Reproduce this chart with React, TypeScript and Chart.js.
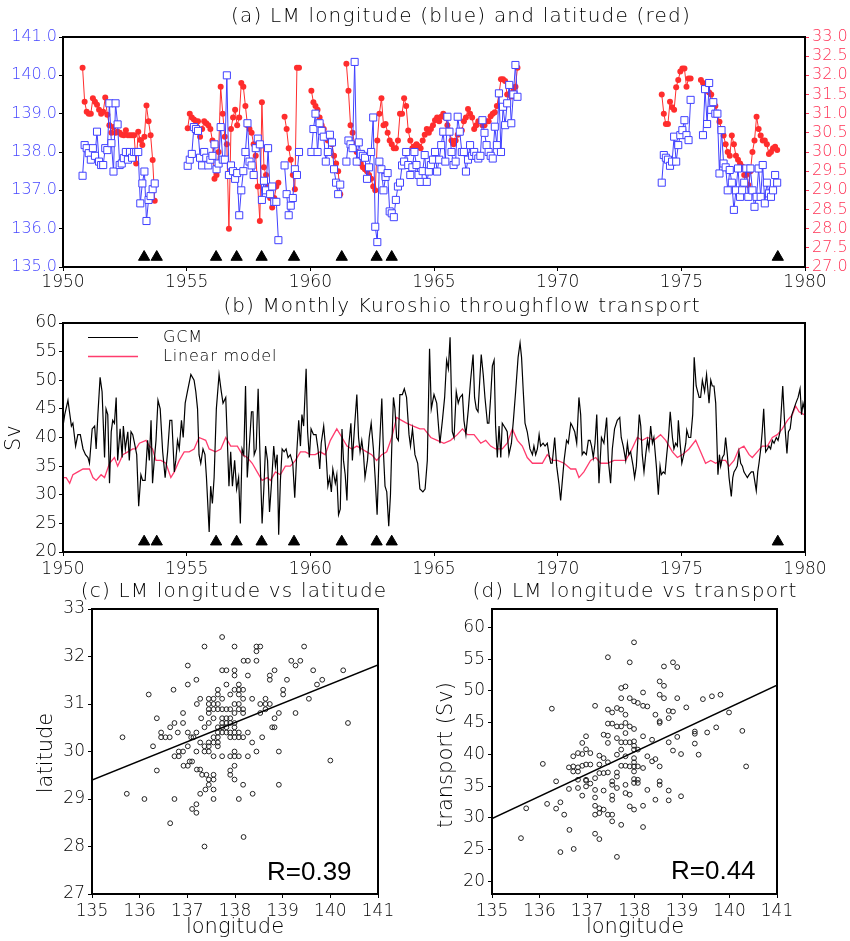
import React, { useEffect, useRef } from "react";
import { Chart, registerables } from "chart.js";
Chart.register(...registerables);

// ---------------- DATA ----------------
const yearTicks = [1950, 1955, 1960, 1965, 1970, 1975, 1980];
const lonTicks = [135, 136, 137, 138, 139, 140, 141];
const latTicksRight = [27, 27.5, 28, 28.5, 29, 29.5, 30, 30.5, 31, 31.5, 32, 32.5, 33];
const svTicks = [20, 25, 30, 35, 40, 45, 50, 55, 60];
const latTicks = [27, 28, 29, 30, 31, 32, 33];

// start [year, month] of each monthly segment in panel (a)
const segmentStarts: [number, number][] = [[1950, 10], [1955, 1], [1960, 1], [1974, 3]];

const lonSeg1 = [
  137.38, 138.18, 138.1,
  137.97, 137.8, 138.1, 137.9, 138.53, 137.75, 137.66, 137.66, 138.1, 138.05, 139.27, 138.23,
  137.49, 139.27, 138.72, 137.66, 137.7, 137.84, 138.0, 137.8, 138.0, 137.85, 138.0, 138.0,
  138.0, 136.66, 137.18, 137.49, 136.2, 136.75, 136.85, 137.03, 137.18,
];
const latSeg1 = [
  32.2, 31.31, 31.05,
  31.0, 31.0, 31.4, 31.31, 31.23, 31.1, 31.0, 31.05, 31.42, 30.97, 30.7, 30.5,
  30.65, 30.5, 30.53, 30.5, 30.45, 30.44, 30.57, 30.44, 30.44, 30.44, 30.44, 29.7,
  30.53, 30.31, 30.18, 30.4, 31.21, 30.8, 30.44, 29.79, 28.73,
];
const lonSeg2 = [
  137.64, 137.8, 137.95, 138.65, 138.6, 138.55, 137.85, 137.65, 138.0, 137.85, 137.65, 137.8,
  137.9, 138.2, 137.55, 137.7, 138.65, 137.8, 137.8, 140.0, 137.4, 137.65, 137.5, 137.3,
  137.45, 136.35, 137.0, 137.5, 138.0, 138.75, 137.75, 137.65, 137.4, 138.1, 138.35, 138.2,
  136.75, 137.25, 137.0, 138.1, 136.9, 137.1, 136.7, 136.7, 135.7, null, null, 137.65,
  136.9, 136.35, 136.6, 136.8, 137.55, 137.4, 138.0,
];
const latSeg2 = [
  30.62, 31.0, 30.9, 30.85, 30.8, 30.8, 30.4, 30.6, 30.8, 30.75, 30.7, 30.6,
  30.3, 29.3, 29.4, 30.0, 31.7, 31.0, 30.4, 30.2, 28.0, 30.6, 30.9, 31.1,
  30.7, 30.9, 31.8, 31.7, 31.2, 30.7, 30.6, 30.5, 30.2, 29.9, 29.1, 28.2,
  31.3, 29.6, 29.4, 29.1, 28.8, 28.55, 28.8, 29.1, 29.2, null, null, 30.92,
  30.6, 30.1, 29.8, 29.4, 29.03, 32.2, 32.2,
];
const lonSeg3 = [
  138.0, 138.6, 139.0, 138.0, 138.75, 138.55, 138.4, 137.75, 138.0, 138.45, 138.25, 137.55,
  137.2, 136.9, 137.15, null, null, 137.75, 138.3, 138.2, 138.1, 140.35, 137.75, 138.25,
  137.95, 137.9, 137.85, 137.3, 137.6, 138.0, 138.9, 136.05, 135.65, 137.75, 137.55, 137.0,
  137.35, 137.45, 136.45, 136.4, 136.3, 136.75, 137.1, 137.2, 137.65, 137.75, 138.0, 137.66,
  137.4, 137.6, 138.0, 137.66, 137.4, 137.22, 137.5, 137.92, 137.22, 137.49, 137.66, 137.8,
  138.0, 137.49, 137.8, 138.18, 138.53, 137.75, 138.92, 138.53, 138.0, 137.66, 137.75, 138.92,
  138.53, 138.0, 138.0, 137.49, 137.8, 138.18, 137.9, 138.0, 137.9, 137.83, 137.9, 138.83,
  138.5, 138.18, 138.0, 137.9, 137.83, 138.66, 138.18, 139.53, 138.0, 139.18, 138.7, 139.27,
  139.75, 138.75, 139.5, 140.27, 139.44,
];
const latSeg3 = [
  31.6, 31.3, 31.2, 31.1, 30.9, 30.7, 30.6, 30.4, 30.3, 30.4, 30.2, 29.9,
  29.7, 29.5, 28.9, null, null, 32.3, 31.6, 30.7, 30.5, 30.2, 30.0, 29.85,
  29.7, 29.6, 29.55, 29.5, 29.4, 29.3, 29.1, 29.0, 30.3, 31.0, 31.4, 30.7,
  30.73, 30.5, 30.3, 30.2, 30.1, 30.1, 30.3, 31.0, 31.0, 31.4, 31.2, 30.56,
  30.3, 30.1, 30.15, 30.2, 30.15, 30.1, 30.3, 30.45, 30.6, 30.5, 30.6, 30.7,
  30.83, 30.9, 30.8, 30.92, 31.0, 30.9, 30.7, 30.56, 30.3, 30.2, 30.3, 30.45,
  30.5, 30.56, 30.8, 30.9, 31.12, 31.0, 30.9, 30.6, 30.7, 30.8, 30.8, 30.7,
  30.7, 30.8, 30.8, 30.93, 31.0, 31.04, 31.2, 31.5, 31.9, 31.9, 31.85, 31.5,
  31.5, 31.45, 31.6, 31.7, 32.2,
];
const lonSeg4 = [
  137.2, 137.92, 137.85, 137.8, 137.64, 137.75, 138.4, 137.75, 138.18, 138.44,
  138.57, 138.83, 138.44, 138.31, 139.36, null, null, null, null, null, 138.44, 139.64,
  138.73, 139.8, 139.1, 139.3, 139.0, 139.0, 137.44, 138.57, 137.7, 137.6, 137.0, 137.53,
  137.2, 136.49, 137.0, 137.57, 136.83, 137.0, 137.2, 137.57, 136.83, 137.57, 137.0, 136.57,
  136.83, 137.57, 136.83, 137.66, 136.66, 137.2, 136.92, 136.83, 137.0, 137.4, 137.2,
];
const latSeg4 = [
  31.5, 31.0, 30.73, 30.73, 31.31, 31.17, 31.1, 31.69, 31.88, 32.1,
  32.18, 32.18, 31.7, 31.92, 31.92, null, null, null, null, 31.88, 31.8, 31.66,
  31.6, 31.55, 31.5, 31.3, 31.2, 31.0, 30.79, 30.6, 30.43, 30.2, 30.0, 29.9,
  30.43, 30.2, 29.9, 29.8, 29.7, 29.62, 29.4, 29.4, 29.14, 29.5, 30.0, 30.3,
  30.92, 30.6, 30.43, 30.3, 30.3, 30.2, 29.95, 30.0, 30.1, 30.14, 30.05,
];

// event marks (triangles)
const eventYears = [1953.28, 1953.79, 1956.19, 1957.02, 1958.03, 1959.34, 1961.27, 1962.68, 1963.29, 1978.9];

// panel (b): [year, Sv]
const gcmSeries: [number, number][] = [
  [1950.0, 42], [1950.07, 44], [1950.2, 46.5], [1950.34, 42], [1950.4, 42.5], [1950.51, 38.5], [1950.6, 40.5], [1950.7, 40.5],
  [1950.81, 38], [1950.91, 37], [1951.01, 36.5], [1951.07, 35.5], [1951.18, 41.5], [1951.28, 42], [1951.34, 38], [1951.41, 44],
  [1951.5, 50.5], [1951.58, 48], [1951.68, 36.5], [1951.74, 45], [1951.81, 44], [1951.88, 32], [1951.95, 41], [1952.01, 43],
  [1952.08, 42.5], [1952.15, 47], [1952.21, 36], [1952.31, 41.5], [1952.39, 36.5], [1952.44, 42], [1952.52, 38], [1952.62, 41],
  [1952.68, 36], [1952.75, 41], [1952.82, 40.5], [1952.89, 39], [1952.98, 37], [1953.06, 28], [1953.15, 33.5], [1953.22, 32.5],
  [1953.32, 32.5], [1953.42, 39.5], [1953.49, 36], [1953.56, 43], [1953.62, 32], [1953.69, 36], [1953.76, 39.5], [1953.84, 46.5],
  [1953.93, 45], [1954.03, 37.5], [1954.13, 33], [1954.23, 37.5], [1954.32, 43], [1954.4, 43], [1954.5, 34], [1954.56, 36],
  [1954.63, 39.5], [1954.7, 38], [1954.79, 43], [1954.86, 40], [1954.94, 46], [1955.03, 48], [1955.17, 51], [1955.3, 50],
  [1955.37, 48], [1955.44, 45], [1955.5, 37], [1955.57, 35.5], [1955.66, 38], [1955.74, 37], [1955.8, 33], [1955.91, 23.5],
  [1955.97, 31.5], [1956.04, 28.5], [1956.11, 33], [1956.2, 45], [1956.31, 51], [1956.4, 48], [1956.47, 46], [1956.58, 47],
  [1956.64, 40], [1956.71, 31.5], [1956.78, 37.5], [1956.85, 31.5], [1956.94, 36], [1957.02, 31], [1957.1, 33], [1957.17, 25],
  [1957.24, 38], [1957.31, 37], [1957.38, 49], [1957.45, 33], [1957.54, 39], [1957.62, 44.5], [1957.68, 44.5], [1957.73, 37],
  [1957.81, 38], [1957.89, 48.5], [1957.96, 37.5], [1958.05, 25], [1958.12, 31], [1958.19, 38.5], [1958.27, 36], [1958.35, 27],
  [1958.43, 32], [1958.52, 38.5], [1958.59, 35], [1958.66, 37], [1958.72, 23], [1958.79, 32.5], [1958.86, 38], [1958.94, 37.5],
  [1959.02, 38], [1959.1, 36.5], [1959.19, 37], [1959.29, 35.5], [1959.37, 29.5], [1959.46, 38], [1959.53, 43], [1959.6, 38.5],
  [1959.66, 44], [1959.73, 42], [1959.83, 52], [1959.89, 41], [1959.96, 36.5], [1960.03, 41.5], [1960.13, 40.5], [1960.23, 40.5],
  [1960.31, 38], [1960.38, 34.5], [1960.44, 39], [1960.54, 42], [1960.63, 37.5], [1960.71, 31.5], [1960.78, 33], [1960.85, 30.5],
  [1960.91, 34.5], [1961.01, 32], [1961.07, 33.5], [1961.14, 26.5], [1961.21, 27.5], [1961.28, 41.5], [1961.34, 36], [1961.41, 33.5],
  [1961.48, 29], [1961.54, 38], [1961.64, 42.5], [1961.7, 36], [1961.79, 42], [1961.88, 47.5], [1961.95, 40], [1962.01, 37.5],
  [1962.08, 39.5], [1962.15, 37], [1962.21, 33], [1962.31, 36], [1962.38, 40], [1962.46, 42.5], [1962.55, 38], [1962.62, 33],
  [1962.7, 26.5], [1962.78, 37], [1962.89, 46.8], [1962.96, 37], [1963.02, 31.5], [1963.09, 30.5], [1963.17, 24.5], [1963.24, 30],
  [1963.29, 38], [1963.36, 47], [1963.42, 45], [1963.49, 40], [1963.56, 39.5], [1963.62, 47.5], [1963.72, 47.5], [1963.8, 48.5],
  [1963.89, 47], [1963.99, 40.5], [1964.05, 38.5], [1964.13, 41.5], [1964.23, 37], [1964.34, 35.5], [1964.43, 31], [1964.55, 30.5],
  [1964.64, 31], [1964.73, 36], [1964.82, 55.5], [1964.89, 45], [1965.0, 47.5], [1965.11, 46], [1965.2, 41], [1965.24, 39],
  [1965.34, 43], [1965.43, 47], [1965.51, 53.5], [1965.58, 52], [1965.65, 57.5], [1965.74, 41], [1965.81, 40], [1965.9, 48],
  [1965.98, 46], [1966.05, 47], [1966.15, 47.5], [1966.21, 43], [1966.29, 40.5], [1966.39, 45], [1966.48, 50], [1966.58, 54.5],
  [1966.64, 47], [1966.71, 45], [1966.78, 44.5], [1966.85, 50], [1966.91, 54.5], [1966.99, 51], [1967.06, 47], [1967.16, 42.5],
  [1967.22, 42.5], [1967.29, 47], [1967.36, 52.5], [1967.43, 53.5], [1967.49, 42], [1967.56, 36.5], [1967.63, 42], [1967.7, 36.5],
  [1967.76, 42.5], [1967.83, 42], [1967.9, 41.5], [1967.96, 41], [1968.03, 37], [1968.13, 39], [1968.21, 43], [1968.3, 48],
  [1968.4, 54], [1968.48, 56.5], [1968.54, 54], [1968.61, 48], [1968.68, 42.5], [1968.77, 41], [1968.88, 38], [1968.98, 37],
  [1969.04, 38.5], [1969.11, 37], [1969.18, 38], [1969.25, 40.5], [1969.31, 38.5], [1969.41, 39], [1969.49, 38.5], [1969.58, 39],
  [1969.65, 37], [1969.72, 35.5], [1969.78, 35.5], [1969.88, 40], [1969.96, 35], [1970.05, 32], [1970.12, 29], [1970.2, 33],
  [1970.26, 36], [1970.36, 39.5], [1970.43, 39], [1970.53, 42.5], [1970.59, 42], [1970.69, 41], [1970.77, 39], [1970.86, 47],
  [1970.93, 44], [1970.99, 37], [1971.06, 37.5], [1971.16, 37], [1971.24, 39.5], [1971.31, 39.5], [1971.37, 38.5], [1971.44, 36.5],
  [1971.51, 39], [1971.58, 44], [1971.67, 32], [1971.77, 40], [1971.87, 39], [1971.98, 43.5], [1972.05, 36], [1972.14, 32],
  [1972.21, 38], [1972.3, 41.5], [1972.41, 43], [1972.51, 43.5], [1972.57, 40], [1972.65, 38.5], [1972.75, 36], [1972.82, 39],
  [1972.88, 37], [1972.95, 37.5], [1973.05, 35], [1973.11, 33], [1973.18, 35], [1973.3, 44], [1973.36, 42], [1973.42, 37],
  [1973.49, 34], [1973.56, 37], [1973.63, 39.5], [1973.69, 38], [1973.76, 42], [1973.83, 39], [1973.89, 40], [1973.99, 35],
  [1974.07, 30], [1974.14, 35], [1974.19, 33.5], [1974.27, 34], [1974.34, 33.7], [1974.41, 37], [1974.48, 40], [1974.55, 44.5],
  [1974.64, 40], [1974.7, 38], [1974.77, 39], [1974.84, 38.5], [1974.88, 43], [1974.95, 39], [1975.02, 35.5], [1975.1, 37],
  [1975.18, 39], [1975.22, 41.3], [1975.3, 40], [1975.38, 40], [1975.46, 44], [1975.52, 54], [1975.6, 49], [1975.66, 48],
  [1975.72, 47], [1975.78, 47], [1975.85, 50], [1975.94, 48], [1976.02, 51], [1976.08, 48], [1976.12, 46], [1976.19, 50],
  [1976.25, 49], [1976.32, 49], [1976.39, 46], [1976.48, 33.5], [1976.54, 37], [1976.59, 35], [1976.66, 36.5], [1976.73, 37],
  [1976.79, 40], [1976.86, 37], [1976.93, 33], [1977.02, 29.7], [1977.08, 33], [1977.13, 34], [1977.2, 34.5], [1977.26, 35],
  [1977.33, 37.5], [1977.4, 35.5], [1977.47, 35], [1977.53, 34], [1977.6, 33.5], [1977.67, 33], [1977.74, 33.5], [1977.83, 34],
  [1977.91, 34], [1978.03, 30.7], [1978.09, 34], [1978.14, 35.5], [1978.21, 38], [1978.27, 41], [1978.33, 45], [1978.41, 37.5],
  [1978.48, 38], [1978.54, 38.5], [1978.61, 38], [1978.68, 39.5], [1978.75, 39], [1978.84, 40], [1978.91, 39.5], [1978.99, 41],
  [1979.1, 49], [1979.17, 43], [1979.27, 37.2], [1979.33, 41], [1979.4, 41.5], [1979.47, 44], [1979.55, 45], [1979.63, 46],
  [1979.72, 47], [1979.8, 48.5], [1979.86, 44], [1979.92, 46], [1980.0, 44.5],
];
const linearSeries: [number, number][] = [
  [1950.0, 33], [1950.13, 33], [1950.27, 32], [1950.4, 33.5], [1950.6, 34], [1950.81, 34.5], [1951.07, 34.5], [1951.21, 33],
  [1951.34, 32.5], [1951.54, 33.5], [1951.68, 33], [1951.88, 35.5], [1952.08, 36.5], [1952.21, 35], [1952.42, 37], [1952.62, 37.5],
  [1952.82, 38], [1952.95, 38], [1953.09, 39], [1953.36, 39.5], [1953.49, 38.5], [1953.62, 38], [1953.76, 36], [1953.96, 36],
  [1954.16, 35.5], [1954.36, 33], [1954.5, 34], [1954.7, 36], [1954.9, 37.5], [1955.1, 37.5], [1955.3, 38], [1955.5, 40],
  [1955.77, 39.5], [1955.91, 38], [1956.17, 37.5], [1956.38, 38], [1956.58, 40], [1956.78, 38.5], [1957.05, 38.5], [1957.25, 37],
  [1957.45, 36.5], [1957.65, 35.5], [1957.85, 34], [1958.05, 32.5], [1958.26, 33], [1958.39, 32.5], [1958.59, 34], [1958.79, 33.5],
  [1958.99, 35], [1959.19, 35], [1959.4, 36], [1959.6, 37.5], [1959.8, 37.5], [1960.0, 37], [1960.2, 37], [1960.4, 37.5],
  [1960.6, 37], [1960.81, 39.5], [1961.07, 41.5], [1961.28, 40], [1961.48, 38.5], [1961.68, 38], [1961.88, 38.5], [1962.08, 38],
  [1962.28, 37.5], [1962.48, 37], [1962.68, 36], [1962.89, 37], [1963.09, 37.5], [1963.29, 40], [1963.49, 43.5], [1963.69, 43],
  [1963.89, 42.5], [1964.16, 42], [1964.43, 41.5], [1964.6, 41.5], [1964.87, 40], [1965.13, 39.5], [1965.4, 39], [1965.67, 39.5],
  [1965.94, 40.5], [1966.15, 41.5], [1966.35, 40.5], [1966.62, 40.5], [1966.89, 39], [1967.09, 39.5], [1967.29, 38.5], [1967.49, 38],
  [1967.76, 38], [1967.96, 39], [1968.17, 41.5], [1968.37, 39.5], [1968.57, 38.5], [1968.77, 36.5], [1968.98, 35.5], [1969.18, 35.5],
  [1969.38, 35.5], [1969.58, 37], [1969.78, 36], [1969.99, 36], [1970.26, 35.5], [1970.53, 34.5], [1970.73, 34.5], [1970.86, 33],
  [1971.06, 34], [1971.33, 36], [1971.54, 36.5], [1971.74, 35.5], [1972.01, 35.5], [1972.28, 36], [1972.55, 36], [1972.75, 36],
  [1972.95, 37.5], [1973.22, 40], [1973.42, 39.5], [1973.63, 40], [1973.89, 39.5], [1974.16, 40.5], [1974.37, 39.5], [1974.64, 37.5],
  [1974.84, 36.5], [1975.04, 37], [1975.31, 38], [1975.58, 39.5], [1975.78, 37.5], [1975.98, 35.5], [1976.19, 36], [1976.39, 35.5],
  [1976.59, 36], [1976.79, 36], [1976.93, 35], [1977.13, 36], [1977.33, 38], [1977.53, 38.5], [1977.74, 37], [1977.87, 36.5],
  [1978.07, 37.5], [1978.27, 38.5], [1978.48, 38.5], [1978.68, 40], [1978.88, 40.5], [1979.08, 41.5], [1979.29, 43], [1979.49, 44],
  [1979.62, 45.5], [1979.76, 44.5], [1979.96, 44],
];

// panel (c): [longitude, latitude]
const lonLatPairs: [number, number][] = [
  [135.64, 30.3], [135.73, 29.11], [136.1, 29.0], [136.19, 31.2], [136.28, 30.11], [136.36, 30.7], [136.36, 29.6], [136.45, 30.4],
  [136.45, 30.3], [136.54, 30.3], [136.63, 30.3], [136.64, 28.49], [136.64, 30.51], [136.71, 31.3], [136.73, 30.6], [136.73, 29.0],
  [136.73, 29.9], [136.8, 30.4], [136.82, 29.9], [136.91, 30.81], [136.91, 30.6], [136.82, 30.0], [136.91, 30.0], [136.92, 29.7],
  [137.01, 29.7], [137.01, 31.81], [137.01, 31.41], [137.01, 30.4], [137.01, 30.11], [137.05, 29.79], [137.1, 29.79], [137.08, 30.3],
  [137.13, 30.3], [137.1, 28.79], [137.19, 28.89], [137.19, 28.71], [137.19, 30.4], [137.19, 30.0], [137.19, 31.51], [137.2, 31.0],
  [137.2, 29.62], [137.27, 31.11], [137.27, 29.62], [137.27, 30.19], [137.27, 29.11], [137.29, 30.7], [137.31, 29.51], [137.36, 30.51],
  [137.36, 32.21], [137.36, 28.0], [137.36, 30.11], [137.38, 29.2], [137.4, 29.51], [137.36, 30.0], [137.45, 30.11], [137.45, 30.0],
  [137.45, 31.11], [137.45, 31.0], [137.45, 30.89], [137.45, 30.81], [137.45, 30.6], [137.45, 30.19], [137.45, 29.41], [137.45, 29.3],
  [137.55, 29.41], [137.55, 29.51], [137.55, 29.2], [137.55, 29.0], [137.55, 29.9], [137.55, 30.19], [137.55, 30.3], [137.55, 30.7],
  [137.55, 30.89], [137.55, 31.0], [137.55, 31.11], [137.64, 31.3], [137.64, 31.2], [137.64, 31.0], [137.64, 30.89], [137.64, 30.51],
  [137.64, 30.4], [137.64, 30.3], [137.64, 30.19], [137.64, 30.11], [137.73, 32.41], [137.73, 31.71], [137.73, 31.11], [137.73, 30.89],
  [137.73, 30.7], [137.73, 30.6], [137.73, 30.51], [137.73, 30.4], [137.73, 29.9], [137.82, 31.71], [137.82, 31.41], [137.82, 30.89],
  [137.82, 30.7], [137.82, 30.6], [137.82, 30.51], [137.82, 30.4], [137.9, 31.2], [137.9, 30.89], [137.9, 30.7], [137.9, 30.6],
  [137.9, 30.4], [137.9, 30.3], [137.9, 29.9], [137.9, 29.6], [137.9, 29.51], [137.99, 32.21], [137.99, 31.71], [137.99, 31.6],
  [137.99, 31.3], [137.99, 31.0], [137.99, 30.81], [137.99, 30.6], [137.99, 30.51], [137.99, 30.4], [137.99, 30.3], [137.99, 30.0],
  [137.99, 29.9], [137.99, 29.7], [137.99, 29.41], [138.08, 31.41], [138.08, 31.3], [138.08, 31.2], [138.08, 31.0], [138.08, 30.89],
  [138.08, 30.4], [138.08, 30.3], [138.08, 29.9], [138.08, 29.0], [138.17, 31.3], [138.17, 31.11], [138.17, 30.89], [138.17, 30.81],
  [138.17, 30.3], [138.17, 29.3], [138.18, 28.2], [138.18, 31.91], [138.27, 31.91], [138.27, 31.6], [138.27, 30.4], [138.27, 29.9],
  [138.36, 31.11], [138.36, 30.19], [138.37, 29.11], [138.45, 30.0], [138.45, 32.21], [138.45, 32.11], [138.45, 31.91], [138.53, 32.21],
  [138.53, 31.0], [138.53, 30.81], [138.57, 30.3], [138.64, 31.11], [138.64, 31.0], [138.64, 30.89], [138.73, 31.6], [138.73, 31.51],
  [138.73, 31.0], [138.78, 30.51], [138.83, 31.71], [138.83, 30.7], [138.83, 30.51], [138.92, 30.81], [138.92, 30.0], [138.92, 29.3],
  [139.01, 31.3], [139.01, 31.2], [139.09, 31.51], [139.18, 31.91], [139.27, 31.81], [139.27, 30.81], [139.37, 31.91], [139.45, 32.21],
  [139.55, 31.11], [139.64, 31.71], [139.72, 31.41], [139.83, 31.51], [140.0, 29.81], [140.27, 31.71], [140.37, 30.6],
];

// panel (d): [longitude, transport]
const lonTransportPairs: [number, number][] = [
  [135.61, 26.8], [135.72, 31.5], [136.07, 38.5], [136.16, 32.2], [136.26, 47.2], [136.35, 35.75], [136.35, 31.45], [136.44, 32.45],
  [136.44, 24.6], [136.52, 30.5], [136.62, 37.95], [136.62, 34.55], [136.63, 28.1], [136.71, 38.1], [136.71, 37.3], [136.71, 39.7],
  [136.72, 25.1], [136.81, 40.2], [136.81, 37.95], [136.81, 37.3], [136.81, 36.0], [136.81, 34.7], [136.9, 40.05], [136.9, 38.2],
  [136.9, 41.8], [136.9, 33.5], [136.98, 42.85], [136.98, 40.8], [136.98, 38.4], [136.98, 36.0], [136.98, 35.85], [136.98, 34.95],
  [137.07, 40.2], [137.07, 38.4], [137.07, 35.4], [137.17, 47.65], [137.17, 36.25], [137.17, 34.4], [137.17, 33.2], [137.17, 31.9],
  [137.17, 30.5], [137.17, 27.5], [137.26, 39.8], [137.26, 38.4], [137.26, 37.05], [137.26, 31.5], [137.26, 30.75], [137.26, 26.65],
  [137.35, 43.1], [137.35, 37.05], [137.35, 39.4], [137.35, 34.3], [137.35, 31.3], [137.44, 47.05], [137.44, 44.85], [137.44, 42.95],
  [137.44, 41.8], [137.44, 38.75], [137.44, 55.3], [137.44, 30.5], [137.44, 37.15], [137.53, 46.6], [137.53, 44.85], [137.53, 35.75],
  [137.53, 35.2], [137.53, 33.5], [137.53, 30.5], [137.53, 29.45], [137.53, 32.85], [137.63, 47.3], [137.63, 44.4], [137.63, 42.55],
  [137.63, 39.95], [137.63, 37.15], [137.63, 36.5], [137.63, 34.7], [137.63, 23.85], [137.72, 50.45], [137.72, 48.85], [137.72, 47.05],
  [137.72, 44.4], [137.72, 41.9], [137.72, 40.75], [137.72, 38.2], [137.72, 28.9], [137.81, 50.7], [137.81, 46.25], [137.81, 44.95],
  [137.81, 43.35], [137.81, 41.9], [137.81, 39.7], [137.81, 38.2], [137.81, 35.2], [137.81, 33.9], [137.9, 54.5], [137.9, 48.85],
  [137.9, 44.4], [137.9, 41.9], [137.9, 38.1], [137.9, 33.65], [137.9, 31.8], [137.99, 57.65], [137.99, 48.35], [137.99, 44.0],
  [137.99, 42.05], [137.99, 41.35], [137.99, 40.75], [137.99, 39.4], [137.99, 38.75], [137.99, 38.1], [137.99, 37.3], [137.99, 36.1],
  [137.99, 35.5], [137.99, 31.3], [138.07, 48.1], [138.07, 40.75], [138.07, 36.0], [138.07, 35.5], [138.07, 38.1], [138.18, 49.75],
  [138.18, 47.65], [138.18, 42.85], [138.18, 37.85], [138.18, 31.9], [138.18, 28.55], [138.27, 47.55], [138.27, 39.7], [138.27, 34.4],
  [138.37, 42.3], [138.37, 38.9], [138.44, 46.25], [138.44, 39.25], [138.44, 32.85], [138.53, 51.5], [138.53, 49.4], [138.53, 45.2],
  [138.53, 44.95], [138.53, 38.1], [138.53, 35.75], [138.53, 35.2], [138.62, 53.85], [138.62, 50.8], [138.62, 48.85], [138.72, 45.7],
  [138.72, 46.85], [138.72, 41.9], [138.72, 34.3], [138.72, 32.75], [138.81, 54.5], [138.81, 46.75], [138.81, 40.6], [138.9, 53.75],
  [138.9, 48.85], [138.9, 42.75], [138.98, 40.05], [138.98, 33.4], [139.09, 47.4], [139.27, 41.7], [139.27, 43.6], [139.27, 43.25],
  [139.35, 39.95], [139.44, 48.7], [139.53, 43.45], [139.63, 49.15], [139.72, 44.25], [139.81, 49.4], [139.99, 46.6], [140.27, 43.7],
  [140.35, 38.1],
];

// regression lines (end points) and correlation labels
const fitLon = [135, 141];
const fitLat = [29.4, 31.82];
const fitTransport = [29.9, 50.9];
const rLabels = ["R=0.39", "R=0.44"];

// ---------------- STYLE ----------------
const FONT = '"DejaVu Sans", "Liberation Sans", sans-serif';
const TITLE_FONT = `200 20px ${FONT}`;
const LABEL_FONT = `200 21px ${FONT}`;
const BLUE = "rgb(64,64,255)";
const BLUE_TXT = "rgb(70,70,255)";
const RED = "rgb(255,45,45)";
const RED_TXT = "rgb(255,50,85)";
const PINK = "rgb(255,60,110)";
const eventMarkerLon = 135.26;
const eventMarkerSv = 21.8;

function monthlyPoints(segs: (number | null)[][]) {
  const pts: { x: number; y: number | null }[] = [];
  segs.forEach((seg, i) => {
    const [yr, mo] = segmentStarts[i];
    if (i > 0) pts.push({ x: yr + (mo - 1) / 12 - 0.01, y: null });
    seg.forEach((v, k) => pts.push({ x: yr + (mo - 1 + k + 0.5) / 12, y: v }));
  });
  return pts;
}

const decorPlugin = {
  id: "decor",
  afterDraw(chart: any, _a: any, opts: any) {
    const ctx = chart.ctx;
    const { left, right, top, bottom } = chart.chartArea;
    ctx.save();
    (opts.lines || []).forEach((l: any) => {
      ctx.beginPath();
      ctx.strokeStyle = l.color;
      ctx.lineWidth = l.width || 1.2;
      ctx.moveTo(l.x1, l.y1);
      ctx.lineTo(l.x2, l.y2);
      ctx.stroke();
    });
    (opts.texts || []).forEach((t: any) => {
      ctx.save();
      ctx.font = t.font;
      ctx.fillStyle = t.color || "#000";
      ctx.textAlign = t.align || "center";
      ctx.textBaseline = t.baseline || "middle";
      (ctx as any).letterSpacing = t.spacing || "0px";
      ctx.translate(t.x, t.y);
      if (t.rotate) ctx.rotate(t.rotate);
      ctx.fillText(t.text, 0, 0);
      ctx.restore();
    });
    if (opts.frame) {
      ctx.lineWidth = opts.frame;
      ctx.strokeStyle = "#000";
      ctx.strokeRect(left, top, right - left, bottom - top);
    }
    ctx.restore();
  },
};

function axis(opts: any) {
  const { tickValues, size, width, height, color, fmt, position, min, max, pad } = opts;
  return {
    type: "linear",
    position,
    min,
    max,
    afterBuildTicks: (s: any) => {
      s.ticks = tickValues.map((v: number) => ({ value: v }));
    },
    afterFit: (s: any) => {
      if (width !== undefined) s.width = width;
      if (height !== undefined) s.height = height;
    },
    border: { display: false },
    grid: { drawOnChartArea: false, drawTicks: true, tickLength: 4, color: color === BLUE_TXT ? "#000" : color, lineWidth: 1 },
    ticks: {
      color,
      autoSkip: false,
      maxRotation: 0,
      padding: pad ?? 2,
      font: { family: FONT, size: size || 15, weight: "200" },
      callback: fmt,
    },
  };
}

const baseOptions = {
  animation: false,
  responsive: false,
  devicePixelRatio: 1,
  events: [],
};
const noPlugins = { legend: { display: false }, tooltip: { enabled: false } };

function configA() {
  return {
    type: "line",
    data: {
      datasets: [
        {
          data: eventYears.map((x) => ({ x, y: eventMarkerLon })),
          type: "scatter", yAxisID: "y", pointStyle: "triangle", pointRadius: 6.5,
          pointBackgroundColor: "#000", pointBorderColor: "#000", order: 0,
        },
        {
          data: monthlyPoints([lonSeg1, lonSeg2, lonSeg3, lonSeg4]),
          yAxisID: "y", borderColor: BLUE, borderWidth: 1, pointStyle: "rect", pointRadius: 5,
          pointBorderWidth: 1, pointBorderColor: BLUE, pointBackgroundColor: "#fff", spanGaps: false, order: 1,
        },
        {
          data: monthlyPoints([latSeg1, latSeg2, latSeg3, latSeg4]),
          yAxisID: "y2", borderColor: RED, borderWidth: 1, pointStyle: "circle", pointRadius: 3,
          pointBorderWidth: 0, pointBackgroundColor: RED, spanGaps: false, order: 2,
        },
      ],
    },
    options: {
      ...baseOptions,
      layout: { padding: { top: 37, left: 0, right: 0, bottom: 0 } },
      scales: {
        x: axis({ tickValues: yearTicks, min: 1950, max: 1980, height: 23, color: "#000", position: "bottom", fmt: (v: number) => String(v), pad: 1, size: 17 }),
        y: axis({ tickValues: lonTicks, min: 135, max: 141, width: 63, color: BLUE_TXT, position: "left", fmt: (v: number) => v.toFixed(1), size: 16 }),
        y2: axis({ tickValues: latTicksRight, min: 27, max: 33, width: 45, color: RED_TXT, position: "right", fmt: (v: number) => v.toFixed(1), pad: 3, size: 16 }),
      },
      plugins: {
        ...noPlugins,
        decor: {
          frame: 2,
          texts: [{ text: "(a) LM longitude (blue) and latitude (red)", x: 461, y: 17, font: TITLE_FONT, spacing: "1.2px" }],
        },
      },
    },
    plugins: [decorPlugin],
  };
}

function configB() {
  return {
    type: "line",
    data: {
      datasets: [
        {
          data: eventYears.map((x) => ({ x, y: eventMarkerSv })),
          type: "scatter", pointStyle: "triangle", pointRadius: 6.5,
          pointBackgroundColor: "#000", pointBorderColor: "#000", order: 0,
        },
        {
          data: gcmSeries.map(([x, y]) => ({ x, y })),
          borderColor: "#000", borderWidth: 1.2, pointRadius: 0, order: 1,
        },
        {
          data: linearSeries.map(([x, y]) => ({ x, y })),
          borderColor: PINK, borderWidth: 1.3, pointRadius: 0, order: 2,
        },
      ],
    },
    options: {
      ...baseOptions,
      layout: { padding: { top: 33, left: 0, right: 45, bottom: 0 } },
      scales: {
        x: axis({ tickValues: yearTicks, min: 1950, max: 1980, height: 28, color: "#000", position: "bottom", fmt: (v: number) => String(v), pad: 3, size: 17 }),
        y: axis({ tickValues: svTicks, min: 20, max: 60, width: 63, color: "#000", position: "left", fmt: (v: number) => String(v), size: 17 }),
      },
      plugins: {
        ...noPlugins,
        decor: {
          frame: 2,
          lines: [
            { x1: 88, y1: 47.5, x2: 138, y2: 47.5, color: "#000", width: 1.2 },
            { x1: 88, y1: 66.5, x2: 138, y2: 66.5, color: PINK, width: 1.3 },
          ],
          texts: [
            { text: "(b) Monthly Kuroshio throughflow transport", x: 462, y: 17, font: TITLE_FONT, spacing: "1.1px" },
            { text: "GCM", x: 163, y: 48, font: `200 16px ${FONT}`, align: "left", spacing: "0.8px" },
            { text: "Linear model", x: 163, y: 67, font: `200 16px ${FONT}`, align: "left", spacing: "0.8px" },
            { text: "Sv", x: 15, y: 148, font: LABEL_FONT, rotate: -Math.PI / 2 },
          ],
        },
      },
    },
    plugins: [decorPlugin],
  };
}

function configScatter(kind: "c" | "d") {
  const pairs = kind === "c" ? lonLatPairs : lonTransportPairs;
  const fitY = kind === "c" ? fitLat : fitTransport;
  const yTicks = kind === "c" ? latTicks : svTicks;
  const yMin = kind === "c" ? 27 : 18;
  const yMax = kind === "c" ? 33 : 62.9;
  const yWidth = kind === "c" ? 92 : 67;
  const padRight = kind === "c" ? 47 : 73;
  const cx = kind === "c" ? 235 : 210;
  const texts =
    kind === "c"
      ? [
          { text: "(c) LM longitude vs latitude", x: 234, y: 12, font: TITLE_FONT, spacing: "1.2px" },
          { text: "latitude", x: 47, y: 173, font: LABEL_FONT, rotate: -Math.PI / 2 },
          { text: "longitude", x: cx, y: 348, font: LABEL_FONT },
          { text: rLabels[0], x: 267, y: 300, font: `26px "Liberation Sans", Arial, sans-serif`, align: "left", baseline: "alphabetic" },
        ]
      : [
          { text: "(d) LM longitude vs transport", x: 210, y: 12, font: TITLE_FONT, spacing: "1.2px" },
          { text: "transport (Sv)", x: 22, y: 175, font: LABEL_FONT, rotate: -Math.PI / 2 },
          { text: "longitude", x: cx, y: 348, font: LABEL_FONT },
          { text: rLabels[1], x: 246, y: 299, font: `26px "Liberation Sans", Arial, sans-serif`, align: "left", baseline: "alphabetic" },
        ];
  return {
    type: "scatter",
    data: {
      datasets: [
        {
          data: fitLon.map((x, i) => ({ x, y: fitY[i] })),
          type: "line", borderColor: "#000", borderWidth: 1.5, pointRadius: 0, order: 0,
        },
        {
          data: pairs.map(([x, y]) => ({ x, y })),
          pointStyle: "circle", pointRadius: 2.4, pointBorderWidth: 1, pointBorderColor: "#222",
          pointBackgroundColor: "rgba(255,255,255,0)", order: 1,
        },
      ],
    },
    options: {
      ...baseOptions,
      layout: { padding: { top: 29, left: 0, right: padRight, bottom: 0 } },
      scales: {
        x: axis({ tickValues: lonTicks, min: 135, max: 141, height: 47, color: "#000", position: "bottom", fmt: (v: number) => String(v), pad: 3, size: 17 }),
        y: axis({ tickValues: yTicks, min: yMin, max: yMax, width: yWidth, color: "#000", position: "left", fmt: (v: number) => String(v), pad: 3, size: 17 }),
      },
      plugins: { ...noPlugins, decor: { frame: 2, texts } },
    },
    plugins: [decorPlugin],
  };
}

function ChartBox({ left, top, width, height, make }: any) {
  const ref = useRef<HTMLCanvasElement>(null);
  useEffect(() => {
    const chart = new Chart(ref.current as HTMLCanvasElement, make() as any);
    return () => chart.destroy();
  }, []);
  return (
    <canvas
      ref={ref}
      width={width}
      height={height}
      style={{ position: "absolute", left, top, width, height }}
    />
  );
}

export default function App() {
  return (
    <div style={{ position: "absolute", left: 0, top: 0, width: 850, height: 941, background: "#fff", overflow: "hidden" }}>
      <ChartBox left={0} top={0} width={850} height={290} make={configA} />
      <ChartBox left={0} top={290} width={850} height={290} make={configB} />
      <ChartBox left={0} top={580} width={425} height={361} make={() => configScatter("c")} />
      <ChartBox left={425} top={580} width={425} height={361} make={() => configScatter("d")} />
    </div>
  );
}
